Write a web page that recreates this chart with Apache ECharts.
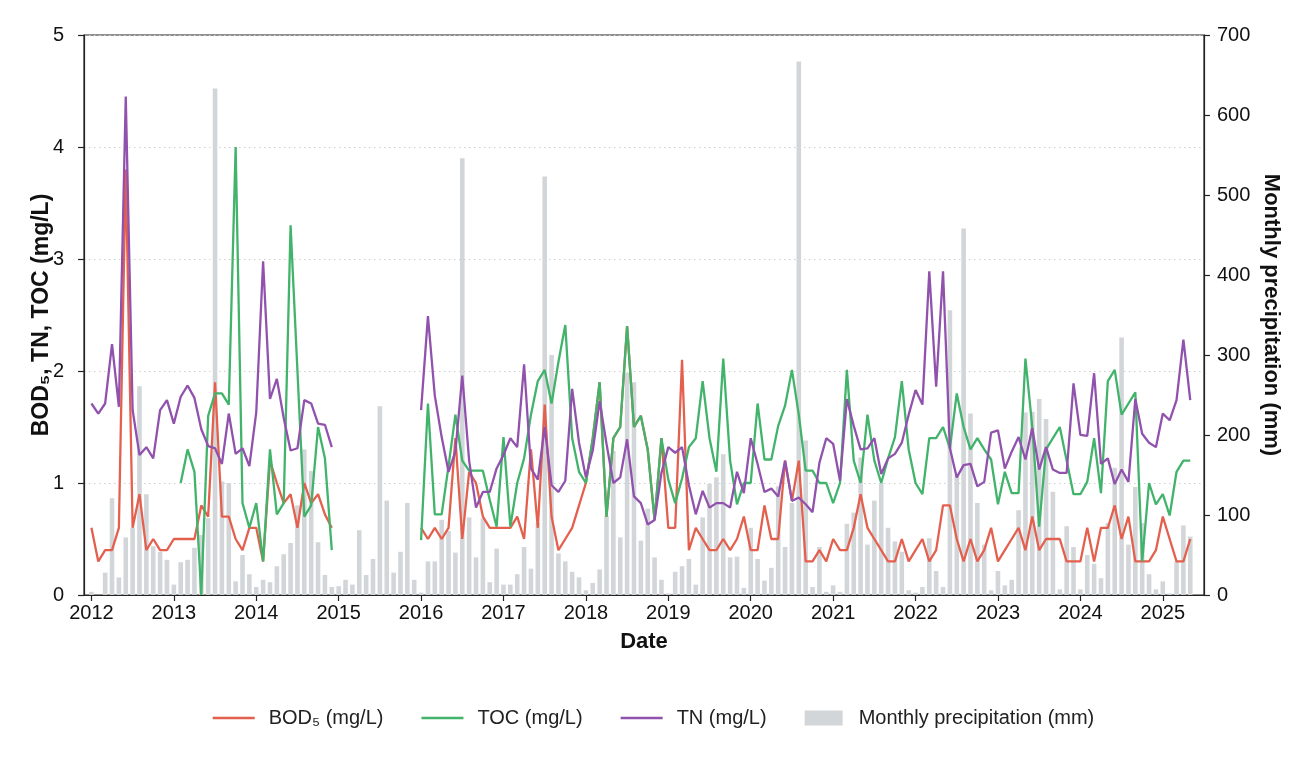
<!DOCTYPE html>
<html><head><meta charset="utf-8">
<script src="https://cdn.jsdelivr.net/npm/echarts@6/dist/echarts.min.js"></script>
<style>html,body{margin:0;padding:0;background:#fff}#c{width:1307px;height:763px}</style>
</head><body><div id="c"></div>
<script>
// Monthly series starting January 2012 (index 0) to May 2025 (index 160)
const startYear = 2012;
const yearTicks = [2012,2013,2014,2015,2016,2017,2018,2019,2020,2021,2022,2023,2024,2025];
const N = null;
const bod = [
0.6,0.3,0.4,0.4,0.6,3.8,0.6,0.9,0.4,0.5,0.4,0.4,
0.5,0.5,0.5,0.5,0.8,0.7,1.9,0.7,0.7,0.5,0.4,0.6,
0.6,0.3,1.2,1.0,0.82,0.9,0.6,1.0,0.82,0.9,0.72,0.6,
N,N,N,N,N,N,N,N,N,N,N,N,
0.6,0.5,0.6,0.5,0.6,1.4,0.5,1.1,1.0,0.7,0.6,0.6,
0.6,0.6,0.7,0.5,1.3,0.6,1.7,0.7,0.4,0.5,0.6,0.8,
1.0,1.4,1.9,0.7,1.4,1.5,2.4,1.5,1.6,1.3,0.67,1.4,
0.6,0.6,2.1,0.4,0.6,0.5,0.4,0.4,0.5,0.4,0.5,0.7,
0.4,0.4,0.8,0.5,0.5,1.2,0.84,1.2,0.3,0.3,0.4,0.3,
0.5,0.4,0.4,0.6,0.9,0.6,0.5,0.4,0.3,0.3,0.5,0.3,
0.4,0.5,0.3,0.4,0.8,0.8,0.5,0.3,0.5,0.3,0.4,0.6,
0.3,0.4,0.5,0.6,0.4,0.7,0.4,0.5,0.5,0.5,0.3,0.3,
0.3,0.6,0.3,0.6,0.6,0.8,0.5,0.7,0.3,0.3,0.3,0.4,
0.7,0.5,0.3,0.3,0.5];
const toc = [
N,N,N,N,N,N,N,N,N,N,N,N,
N,1.0,1.3,1.1,0.0,1.6,1.8,1.8,1.7,4.0,0.82,0.6,
0.82,0.3,1.3,0.72,0.82,3.3,2.0,0.7,0.8,1.5,1.22,0.4,
N,N,N,N,N,N,N,N,N,N,N,N,
0.49,1.71,0.72,0.72,1.15,1.61,1.2,1.11,1.11,1.11,0.85,0.61,
1.41,0.61,1.0,1.22,1.61,1.91,2.01,1.71,2.08,2.41,1.4,1.1,
1.0,1.4,1.9,0.7,1.4,1.5,2.4,1.5,1.6,1.3,0.67,1.4,
1.03,0.82,1.04,1.32,1.4,1.91,1.4,1.1,2.11,1.2,0.81,1.0,
1.0,1.71,1.21,1.21,1.51,1.69,2.01,1.61,1.11,1.11,1.0,1.0,
0.82,1.0,2.01,1.2,1.0,1.61,1.2,1.0,1.22,1.41,1.91,1.3,
1.0,0.9,1.4,1.4,1.5,1.31,1.8,1.5,1.3,1.4,1.3,1.21,
0.81,1.1,0.91,0.91,2.11,1.5,0.61,1.3,1.4,1.5,1.2,0.9,
0.9,1.01,1.4,0.91,1.91,2.01,1.61,1.71,1.81,0.3,1.0,0.81,
0.9,0.71,1.1,1.2,1.2];
const tn = [
1.71,1.62,1.71,2.24,1.68,4.45,1.65,1.25,1.32,1.22,1.65,1.74,
1.53,1.77,1.87,1.76,1.48,1.33,1.31,1.17,1.62,1.26,1.31,1.15,
1.63,2.98,1.75,1.93,1.58,1.29,1.31,1.74,1.71,1.53,1.52,1.32,
N,N,N,N,N,N,N,N,N,N,N,N,
1.65,2.49,1.78,1.41,1.10,1.28,1.96,1.20,0.78,0.92,0.92,1.13,
1.25,1.40,1.32,2.06,1.13,1.03,1.50,0.98,0.92,1.02,1.84,1.36,
1.05,1.29,1.73,1.35,1.0,1.05,1.39,0.88,0.82,0.63,0.67,1.09,
1.32,1.27,1.32,0.98,0.72,0.93,0.78,0.82,0.82,0.78,1.10,0.91,
1.40,1.17,0.92,0.95,0.88,1.20,0.84,0.87,0.81,0.74,1.18,1.40,
1.35,1.02,1.75,1.51,1.30,1.31,1.40,1.08,1.22,1.26,1.36,1.61,
1.83,1.70,2.89,1.86,2.89,1.31,1.05,1.16,1.17,0.97,1.01,1.45,
1.47,1.13,1.28,1.41,1.21,1.49,1.12,1.32,1.12,1.09,1.09,1.89,
1.43,1.42,1.98,1.17,1.22,0.99,1.12,1.01,1.75,1.44,1.36,1.32,
1.62,1.56,1.74,2.28,1.74];
const precip = [
4,0,28,121,22,72,84,261,126,61,54,44,
13,41,44,59,75,96,633,142,140,17,50,26,
10,19,16,36,51,65,112,182,155,66,25,10,
11,19,13,81,25,45,236,118,28,54,115,19,
3,42,42,94,80,53,546,97,47,96,16,58,
13,13,26,60,33,90,523,300,52,42,29,22,
6,15,32,99,180,72,278,266,68,108,47,19,
2,29,36,45,13,97,139,147,176,47,48,9,
84,45,18,34,136,60,115,667,193,10,60,4,
12,4,89,103,172,63,118,140,84,67,54,6,
3,10,71,30,10,356,150,458,227,115,63,6,
30,12,19,106,228,229,245,220,129,7,86,60,
7,50,39,21,90,159,322,63,135,90,26,7,
17,2,42,87,73];

const monthX = i => startYear + i / 12;
const toPairs = arr => arr.map((v, i) => [monthX(i), v]);

const FONT = "'Liberation Sans', Arial, Helvetica, sans-serif";
const names = ['BOD\u2085 (mg/L)', 'TOC (mg/L)', 'TN (mg/L)', 'Monthly precipitation (mm)'];
const colors = ['#e4604e', '#42b36b', '#9152ae', '#d3d6d9'];

const chart = echarts.init(document.getElementById('c'), null, {renderer: 'canvas'});
const lineSeries = (name, data, color) => ({
  name, type: 'line', data: toPairs(data), yAxisIndex: 0,
  showSymbol: false, symbol: 'none', connectNulls: false,
  lineStyle: {color, width: 2.3}, itemStyle: {color}, z: 3, animation: false
});
chart.setOption({
  backgroundColor: '#fff',
  animation: false,
  grid: {left: 84, right: 103, top: 35, bottom: 168, show: true, borderColor: '#222', borderWidth: 1.2, containLabel: false},
  legend: {
    top: 703, left: 'center',
    itemWidth: 42, itemHeight: 15, itemGap: 38,
    itemStyle: {borderWidth: 0},
    textStyle: {fontFamily: FONT, fontSize: 20, color: '#222', padding: [0, 0, 0, 9]},
    data: [
      {name: names[0], icon: 'path://M0,0H42V2.6H0Z'},
      {name: names[1], icon: 'path://M0,0H42V2.6H0Z'},
      {name: names[2], icon: 'path://M0,0H42V2.6H0Z'},
      {name: names[3], icon: 'path://M0,0H38V15H0Z'}
    ]
  },
  xAxis: {
    type: 'value', min: 2011.91, max: 2025.5,
    name: 'Date', nameLocation: 'middle', nameGap: 36, nameMoveOverlap: false,
    nameTextStyle: {fontFamily: FONT, fontSize: 22, fontWeight: 'bold', color: '#111'},
    axisLine: {show: true, lineStyle: {color: '#222', width: 1.2}},
    axisTick: {show: true, length: 6, lineStyle: {color: '#222', width: 1.2}, customValues: yearTicks},
    axisLabel: {fontFamily: FONT, fontSize: 20, color: '#111', margin: 8, customValues: yearTicks,
      formatter: v => String(Math.round(v))},
    splitLine: {show: false}
  },
  yAxis: [{
    type: 'value', min: 0, max: 5, interval: 1, position: 'left',
    name: 'BOD\u2085, TN, TOC (mg/L)', nameLocation: 'middle', nameRotate: 90, nameGap: 31, nameMoveOverlap: false,
    nameTextStyle: {fontFamily: FONT, fontSize: 23, fontWeight: 'bold', color: '#111'},
    axisLine: {show: true, lineStyle: {color: '#222', width: 1.2}},
    axisTick: {show: true, length: 6, lineStyle: {color: '#222', width: 1.2}},
    axisLabel: {fontFamily: FONT, fontSize: 20, color: '#111', margin: 20},
    splitLine: {show: true, lineStyle: {color: '#cfcfcf', width: 1, type: [1.5, 3.5]}}
  }, {
    type: 'value', min: 0, max: 700, interval: 100, position: 'right',
    name: 'Monthly precipitation (mm)', nameLocation: 'middle', nameRotate: -90, nameGap: 56, nameMoveOverlap: false,
    nameTextStyle: {fontFamily: FONT, fontSize: 22, fontWeight: 'bold', color: '#111'},
    axisLine: {show: true, lineStyle: {color: '#222', width: 1.2}},
    axisTick: {show: true, length: 6, lineStyle: {color: '#222', width: 1.2}},
    axisLabel: {fontFamily: FONT, fontSize: 20, color: '#111', margin: 13},
    splitLine: {show: false}
  }],
  series: [
    {name: names[3], type: 'bar', yAxisIndex: 1, data: toPairs(precip), barWidth: 4.6,
      itemStyle: {color: colors[3]}, z: 1, animation: false},
    lineSeries(names[0], bod, colors[0]),
    lineSeries(names[1], toc, colors[1]),
    lineSeries(names[2], tn, colors[2])
  ]
});
</script></body></html>
